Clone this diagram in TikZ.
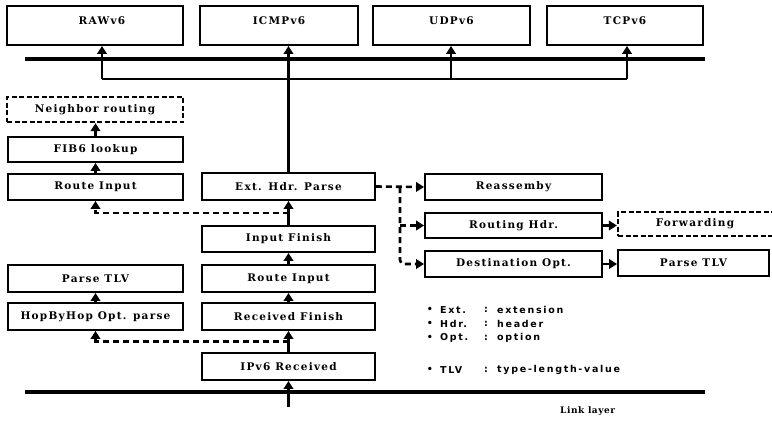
\documentclass[tikz,border=0pt]{standalone}
\usepackage{fontspec}
\newfontfamily\boxfont{DejaVu Serif}[LetterSpace=12]
\newfontfamily\linkfont{DejaVu Serif}[LetterSpace=6]
\newfontfamily\legfont{DejaVu Sans}[LetterSpace=18]
\usetikzlibrary{arrows.meta}
\begin{document}
\begin{tikzpicture}[x=1pt,y=-1pt,
  lbl/.style={font=\fontsize{10.5}{12}\selectfont\boxfont\bfseries},
  box/.style={draw, line width=1.9pt, rectangle, inner sep=0pt, lbl},
  dbox/.style={draw, line width=2.2pt, dash pattern=on 5pt off 2.5pt, rectangle, inner sep=0pt, lbl},
  topbox/.style={box, text height=7.5pt, text depth=9pt},
  arr/.style={line width=2.8pt, -{Triangle[length=8pt,width=9.5pt]}},
  darr/.style={line width=2.6pt, dash pattern=on 6pt off 4pt, -{Triangle[length=8pt,width=9.5pt]}},
  bar/.style={line width=3.4pt},
  leg/.style={font=\fontsize{9.5}{11}\selectfont\legfont\bfseries, inner sep=0pt}
]
\useasboundingbox (0,0) rectangle (772,426);
\fill[white] (0,0) rectangle (772,426);

% top boxes
\node[topbox, minimum width=176pt, minimum height=39pt] (RAW)  at (95,25.5)  {\hspace*{14pt}RAWv6};
\node[topbox, minimum width=158pt, minimum height=39pt] (ICMP) at (279,25.5) {ICMPv6};
\node[topbox, minimum width=157pt, minimum height=39pt] (UDP)  at (451.5,25.5) {UDPv6};
\node[topbox, minimum width=156pt, minimum height=39pt] (TCP)  at (625,25.5) {TCPv6};

% left column
\node[dbox, minimum width=176pt, minimum height=25pt] (Neigh) at (95,109.5) {Neighbor routing};
\node[box, minimum width=175pt, minimum height=25pt] (FIB) at (95.5,149.5) {FIB6 lookup};
\node[box, minimum width=175pt, minimum height=26pt] (RouteInL) at (95.5,187) {Route Input};
\node[box, minimum width=175pt, minimum height=27pt] (ParseL) at (95.5,278.5) {Parse TLV};
\node[box, minimum width=175pt, minimum height=27pt] (Hop) at (95.5,316.5) {HopByHop Opt. parse};

% centre column
\node[box, minimum width=173pt, minimum height=27pt] (Ext) at (288.5,186.5) {Ext. Hdr. Parse};
\node[box, minimum width=173pt, minimum height=26pt] (InFin) at (288.5,239) {Input Finish};
\node[box, minimum width=173pt, minimum height=27pt] (RouteInC) at (288.5,278.5) {Route Input};
\node[box, minimum width=173pt, minimum height=27pt] (RecvFin) at (288.5,316.5) {Received Finish};
\node[box, minimum width=173pt, minimum height=27pt] (Recv) at (288.5,366.5) {IPv6 Received};

% right column
\node[box, minimum width=177pt, minimum height=26pt] (Reas) at (513.5,187) {Reassemby};
\node[box, minimum width=177pt, minimum height=25pt] (RoutH) at (513.5,225.5) {Routing Hdr.};
\node[box, minimum width=177pt, minimum height=26pt] (Dest) at (513.5,264) {Destination Opt.};
\node[dbox, minimum width=172pt, minimum height=24pt] (Fwd) at (704,224) {\hspace*{-18pt}Forwarding};
\node[box, minimum width=151pt, minimum height=26pt] (ParseR) at (693.5,263) {Parse TLV};

% bus to upper layer
\coordinate (bL) at (102,79);
\coordinate (bU) at (451,79);
\coordinate (bR) at (627,79);
\draw[line width=2.8pt] (bL) -- (bR);
\draw[arr] (bL) -- (bL |- RAW.south);
\draw[arr] (bU) -- (bU |- UDP.south);
\draw[arr] (bR) -- (bR |- TCP.south);
\draw[arr] (Ext.north) -- (Ext.north |- ICMP.south);
\coordinate (t1) at (25,59);
\coordinate (t2) at (705,59);
\draw[bar] (t1) -- (t2);

% centre chain
\draw[arr] (Recv.north) -- (RecvFin.south);
\draw[arr] (RecvFin.north) -- (RouteInC.south);
\draw[arr] (RouteInC.north) -- (InFin.south);
\draw[arr] (InFin.north) -- (Ext.south);

% left chain
\draw[arr] (Hop.north) -- (ParseL.south);
\draw[arr] (RouteInL.north) -- (FIB.south);
\draw[arr] (FIB.north) -- (FIB.north |- Neigh.south);

% dashed branches to the left
\path (InFin.north) -- (Ext.south) coordinate[pos=0.5] (j1);
\path (Recv.north) -- (RecvFin.south) coordinate[pos=0.5] (j2);
\draw[darr] (j1) -| (RouteInL.south);
\draw[darr] (j2) -| (Hop.south);

% dashed branches to the right
\coordinate (split) at (400,187);
\draw[darr] (Ext.east) -- (Reas.west);
\draw[darr, rounded corners=4pt] (split) |- (Dest.west);
\draw[darr] (split |- RoutH.west) -- (RoutH.west);
\draw[arr] (RoutH.east) -- (RoutH.east -| Fwd.west);
\draw[arr] (Dest.east) -- (Dest.east -| ParseR.west);

% link layer
\coordinate (l1) at (25,392);
\coordinate (l2) at (705,392);
\draw[bar] (l1) -- (l2);
\coordinate (lin) at (288.5,407);
\draw[arr] (lin) -- (Recv.south);
\node[font=\fontsize{9}{11}\selectfont\linkfont\bfseries, anchor=west, inner sep=0pt] (link) at (560,411) {Link layer};

% legend
\foreach \yy/\ab/\de/\nm in {310/Ext./extension/a, 324/Hdr./header/b, 338/Opt./option/c, 370/TLV/type-length-value/d}{
  \node[leg] (bul\nm) at (430,\yy) {•};
  \node[leg, anchor=west] (ab\nm) at (440,\yy) {\ab};
  \node[leg] (col\nm) at (486,\yy) {:};
  \node[leg, anchor=west] (de\nm) at (497,\yy) {\de};
}
\end{tikzpicture}
\end{document}
